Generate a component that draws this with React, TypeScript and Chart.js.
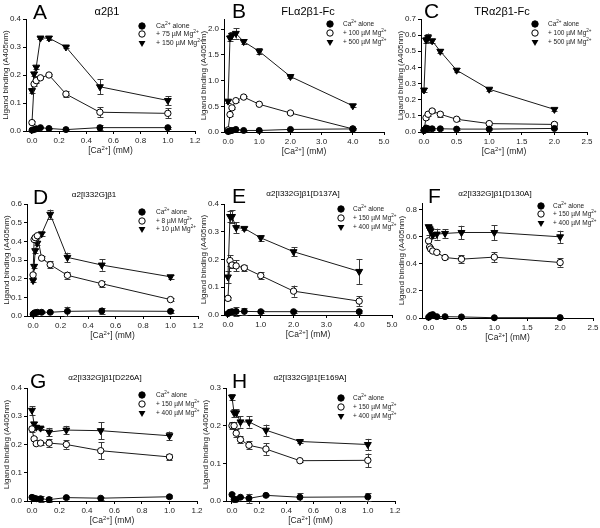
import React, { useEffect, useRef } from "react";
import { Chart, registerables } from "chart.js";
Chart.register(...registerables);

// ---------------- data ----------------
const xA = [0, 0.0156, 0.03125, 0.0625, 0.125, 0.25, 0.5, 1.0];
const aCa = [0.003, 0.005, 0.008, 0.012, 0.009, 0.005, 0.012, 0.012];
const aCaErr = [0.002, 0.003, 0.004, 0.003, 0.003, 0.003, 0.008, 0.004];
const aLow = [0.03, 0.168, 0.18, 0.19, 0.2, 0.132, 0.067, 0.063];
const aLowErr = [0.005, 0.008, 0.008, 0.005, 0.005, 0.012, 0.018, 0.018];
const aHigh = [0.144, 0.204, 0.228, 0.332, 0.332, 0.3, 0.158, 0.109];
const aHighErr = [0.008, 0.008, 0.005, 0.005, 0.006, 0.005, 0.027, 0.016];

const xB = [0, 0.0625, 0.125, 0.25, 0.5, 1, 2, 4];
const bCa = [0.01, 0.02, 0.03, 0.05, 0.03, 0.03, 0.05, 0.06];
const bCaErr = [0.01, 0.01, 0.01, 0.01, 0.01, 0.01, 0.01, 0.01];
const bLow = [0.04, 0.34, 0.47, 0.61, 0.68, 0.54, 0.37, 0.06];
const bLowErr = [0.02, 0.02, 0.02, 0.02, 0.02, 0.02, 0.02, 0.02];
const bHigh = [0.6, 1.83, 1.88, 1.92, 1.76, 1.57, 1.08, 0.51];
const bHighErr = [0.03, 0.05, 0.06, 0.1, 0.05, 0.06, 0.02, 0.03];

const xC = [0, 0.03125, 0.0625, 0.125, 0.25, 0.5, 1, 2];
const cCa = [0.01, 0.025, 0.02, 0.02, 0.02, 0.018, 0.018, 0.022];
const cCaErr = [0.005, 0.005, 0.005, 0.005, 0.005, 0.005, 0.005, 0.005];
const cLow = [0.01, 0.088, 0.11, 0.13, 0.11, 0.079, 0.052, 0.047];
const cLowErr = [0.005, 0.01, 0.01, 0.01, 0.015, 0.008, 0.008, 0.012];
const cHigh = [0.26, 0.57, 0.585, 0.565, 0.5, 0.383, 0.265, 0.14];
const cHighErr = [0.01, 0.02, 0.025, 0.012, 0.012, 0.012, 0.008, 0.008];

const xD = [0, 0.0078, 0.0156, 0.03125, 0.0625, 0.125, 0.25, 0.5, 1.0];
const dCa = [0.01, 0.015, 0.018, 0.02, 0.02, 0.02, 0.025, 0.027, 0.025];
const dCaErr = [0.005, 0.005, 0.005, 0.005, 0.005, 0.005, 0.025, 0.018, 0.008];
const dLow = [0.22, 0.41, 0.42, 0.43, 0.31, 0.275, 0.218, 0.173, 0.088];
const dLowErr = [0.01, 0.01, 0.01, 0.01, 0.01, 0.02, 0.02, 0.015, 0.008];
const dHigh = [0.19, 0.266, 0.35, 0.39, 0.44, 0.545, 0.314, 0.273, 0.21];
const dHighErr = [0.01, 0.01, 0.01, 0.01, 0.01, 0.025, 0.025, 0.03, 0.01];

const xE = [0, 0.0625, 0.125, 0.25, 0.5, 1, 2, 4];
const eCa = [0.005, 0.01, 0.012, 0.013, 0.013, 0.012, 0.012, 0.012];
const eCaErr = [0.003, 0.01, 0.01, 0.015, 0.012, 0.005, 0.005, 0.005];
const eLow = [0.06, 0.196, 0.18, 0.177, 0.17, 0.142, 0.086, 0.05];
const eLowErr = [0.005, 0.02, 0.01, 0.02, 0.01, 0.012, 0.02, 0.018];
const eHigh = [0.137, 0.355, 0.355, 0.315, 0.312, 0.278, 0.228, 0.157];
const eHighErr = [0.02, 0.02, 0.022, 0.02, 0.005, 0.01, 0.016, 0.045];

const xF = [0, 0.0156, 0.03125, 0.0625, 0.125, 0.25, 0.5, 1, 2];
const fCa = [0.005, 0.012, 0.02, 0.025, 0.01, 0.01, 0.008, 0.002, 0.003];
const fCaErr = [0.005, 0.005, 0.005, 0.005, 0.005, 0.005, 0.005, 0.005, 0.005];
const fLow = [0.57, 0.525, 0.51, 0.495, 0.485, 0.447, 0.435, 0.45, 0.41];
const fLowErr = [0.04, 0.01, 0.01, 0.01, 0.01, 0.01, 0.03, 0.035, 0.03];
const fHigh = [0.675, 0.66, 0.645, 0.61, 0.62, 0.625, 0.632, 0.632, 0.6];
const fHighErr = [0.01, 0.01, 0.01, 0.02, 0.04, 0.03, 0.05, 0.055, 0.045];

const xG = [0, 0.0156, 0.03125, 0.0625, 0.125, 0.25, 0.5, 1.0];
const gCa = [0.013, 0.01, 0.008, 0.008, 0.005, 0.012, 0.01, 0.015];
const gCaErr = [0.005, 0.005, 0.005, 0.01, 0.01, 0.005, 0.005, 0.005];
const gLow = [0.255, 0.22, 0.203, 0.205, 0.205, 0.2, 0.178, 0.156];
const gLowErr = [0.01, 0.005, 0.005, 0.005, 0.015, 0.015, 0.03, 0.012];
const gHigh = [0.321, 0.273, 0.261, 0.258, 0.244, 0.251, 0.249, 0.231];
const gHighErr = [0.015, 0.005, 0.005, 0.005, 0.015, 0.015, 0.03, 0.015];

const xH = [0, 0.0156, 0.03125, 0.0625, 0.125, 0.25, 0.5, 1.0];
const hCa = [0.017, 0.004, 0.004, 0.01, 0.007, 0.015, 0.01, 0.011];
const hCaErr = [0.003, 0.003, 0.003, 0.003, 0.012, 0.003, 0.01, 0.01];
const hLow = [0.2, 0.2, 0.18, 0.163, 0.148, 0.138, 0.107, 0.108];
const hLowErr = [0.01, 0.01, 0.01, 0.01, 0.01, 0.015, 0.003, 0.018];
const hHigh = [0.276, 0.234, 0.234, 0.21, 0.21, 0.188, 0.158, 0.15];
const hHighErr = [0.008, 0.01, 0.01, 0.015, 0.015, 0.015, 0.003, 0.015];

// tick values
const xTicks12 = [0, 0.2, 0.4, 0.6, 0.8, 1.0, 1.2];
const xTicks5 = [0, 1, 2, 3, 4, 5];
const xTicks25 = [0, 0.5, 1.0, 1.5, 2.0, 2.5];
const yTicks04 = [0, 0.1, 0.2, 0.3, 0.4];
const yTicks2 = [0, 0.5, 1.0, 1.5, 2.0];
const yTicks07 = [0, 0.1, 0.2, 0.3, 0.4, 0.5, 0.6, 0.7];
const yTicks06 = [0, 0.1, 0.2, 0.3, 0.4, 0.5, 0.6];
const yTicks08 = [0, 0.2, 0.4, 0.6, 0.8];
const yTicks03 = [0, 0.1, 0.2, 0.3];

// text
const legendA = ["Ca^2+^ alone", "+ 75 µM Mg^2+^", "+ 150 µM Mg^2+^"];
const legendBC = ["Ca^2+^ alone", "+ 100 µM Mg^2+^", "+ 500 µM Mg^2+^"];
const legendD = ["Ca^2+^ alone", "+ 8 µM Mg^2+^", "+ 10 µM Mg^2+^"];
const legendEH = ["Ca^2+^ alone", "+ 150 µM Mg^2+^", "+ 400 µM Mg^2+^"];
const yTitle = "Ligand binding (A405nm)";
const xTitle = "[Ca^2+^] (mM)";

const FONT = '"Liberation Sans", Arial, Helvetica, sans-serif';

type Panel = {
  letter: string; title: string; titleSize: number;
  box: { x: number; y: number; w: number; h: number };
  area: { l: number; t: number; r: number; b: number };
  xMin: number; xMax: number; xTicks: number[];
  yMin: number; yMax: number; yTicks: number[];
  xs: number[];
  ca: number[]; caErr: number[]; low: number[]; lowErr: number[]; high: number[]; highErr: number[];
  legend: string[];
  letterAt: [number, number]; titleAt: [number, number];
  legendAt: { mx: number; tx: number; ys: number[] }; legendSize: number;
};

const panels: Panel[] = [
  { letter: "A", title: "α2β1", titleSize: 11, box: { x: 0, y: 0, w: 205, h: 165 }, area: { l: 26, t: 19, r: 195, b: 131 },
    xMin: -0.044, xMax: 1.2, xTicks: xTicks12, yMin: 0, yMax: 0.4, yTicks: yTicks04, xs: xA,
    ca: aCa, caErr: aCaErr, low: aLow, lowErr: aLowErr, high: aHigh, highErr: aHighErr, legend: legendA,
    letterAt: [33, 19], titleAt: [107, 12], legendAt: { mx: 142, tx: 156, ys: [26, 34, 43] }, legendSize: 7 },
  { letter: "B", title: "FLα2β1-Fc", titleSize: 11, box: { x: 195, y: 0, w: 205, h: 165 }, area: { l: 224, t: 19, r: 384, b: 132 },
    xMin: -0.13, xMax: 5, xTicks: xTicks5, yMin: 0, yMax: 2.2, yTicks: yTicks2, xs: xB,
    ca: bCa, caErr: bCaErr, low: bLow, lowErr: bLowErr, high: bHigh, highErr: bHighErr, legend: legendBC,
    letterAt: [232, 18], titleAt: [308, 12], legendAt: { mx: 330, tx: 343, ys: [24, 33, 42] }, legendSize: 6.5 },
  { letter: "C", title: "TRα2β1-Fc", titleSize: 11, box: { x: 395, y: 0, w: 210, h: 165 }, area: { l: 421, t: 19, r: 587, b: 132 },
    xMin: -0.046, xMax: 2.5, xTicks: xTicks25, yMin: 0, yMax: 0.7, yTicks: yTicks07, xs: xC,
    ca: cCa, caErr: cCaErr, low: cLow, lowErr: cLowErr, high: cHigh, highErr: cHighErr, legend: legendBC,
    letterAt: [424, 18], titleAt: [502, 12], legendAt: { mx: 535, tx: 548, ys: [24, 33, 42] }, legendSize: 6.5 },
  { letter: "D", title: "α2[I332G]β1", titleSize: 8, box: { x: 0, y: 168, w: 208, h: 175 }, area: { l: 27, t: 204, r: 198, b: 316 },
    xMin: -0.044, xMax: 1.2, xTicks: xTicks12, yMin: 0, yMax: 0.6, yTicks: yTicks06, xs: xD,
    ca: dCa, caErr: dCaErr, low: dLow, lowErr: dLowErr, high: dHigh, highErr: dHighErr, legend: legendD,
    letterAt: [33, 204], titleAt: [94, 195], legendAt: { mx: 142, tx: 156, ys: [212, 221, 229] }, legendSize: 6.5 },
  { letter: "E", title: "α2[I332G]β1[D137A]", titleSize: 8, box: { x: 195, y: 168, w: 210, h: 175 }, area: { l: 224, t: 204, r: 392, b: 315 },
    xMin: -0.12, xMax: 5, xTicks: xTicks5, yMin: 0, yMax: 0.4, yTicks: yTicks04, xs: xE,
    ca: eCa, caErr: eCaErr, low: eLow, lowErr: eLowErr, high: eHigh, highErr: eHighErr, legend: legendEH,
    letterAt: [232, 203], titleAt: [303, 194], legendAt: { mx: 341, tx: 353, ys: [209, 218, 227] }, legendSize: 6.5 },
  { letter: "F", title: "α2[I332G]β1[D130A]", titleSize: 8, box: { x: 395, y: 168, w: 212, h: 175 }, area: { l: 422, t: 203, r: 593, b: 318 },
    xMin: -0.1, xMax: 2.5, xTicks: xTicks25, yMin: 0, yMax: 0.85, yTicks: yTicks08, xs: xF,
    ca: fCa, caErr: fCaErr, low: fLow, lowErr: fLowErr, high: fHigh, highErr: fHighErr, legend: legendEH,
    letterAt: [428, 203], titleAt: [495, 194], legendAt: { mx: 541, tx: 553, ys: [206, 214, 223] }, legendSize: 6.5 },
  { letter: "G", title: "α2[I332G]β1[D226A]", titleSize: 8, box: { x: 0, y: 345, w: 207, h: 183 }, area: { l: 27, t: 388, r: 197, b: 501 },
    xMin: -0.036, xMax: 1.2, xTicks: xTicks12, yMin: 0, yMax: 0.4, yTicks: yTicks04, xs: xG,
    ca: gCa, caErr: gCaErr, low: gLow, lowErr: gLowErr, high: gHigh, highErr: gHighErr, legend: legendEH,
    letterAt: [30, 388], titleAt: [105, 378], legendAt: { mx: 142, tx: 156, ys: [395, 404, 413] }, legendSize: 6.5 },
  { letter: "H", title: "α2[I332G]β1[E169A]", titleSize: 8, box: { x: 195, y: 345, w: 212, h: 183 }, area: { l: 226, t: 388, r: 395, b: 501 },
    xMin: -0.044, xMax: 1.2, xTicks: xTicks12, yMin: 0, yMax: 0.3, yTicks: yTicks03, xs: xH,
    ca: hCa, caErr: hCaErr, low: hLow, lowErr: hLowErr, high: hHigh, highErr: hHighErr, legend: legendEH,
    letterAt: [232, 388], titleAt: [310, 378], legendAt: { mx: 341, tx: 353, ys: [398, 407, 416] }, legendSize: 6.5 },
];

// ---------------- drawing helpers ----------------
function drawRich(ctx: CanvasRenderingContext2D, text: string, x: number, y: number, size: number, align: "left" | "center") {
  const parts = text.split("^").map((t, i) => ({ t, sup: i % 2 === 1 })).filter((p) => p.t.length > 0);
  const supSize = size * 0.7;
  const widths = parts.map((p) => {
    ctx.font = `${p.sup ? supSize : size}px ${FONT}`;
    return ctx.measureText(p.t).width;
  });
  const total = widths.reduce((a, b) => a + b, 0);
  let cx = align === "center" ? x - total / 2 : x;
  ctx.textAlign = "left";
  ctx.textBaseline = "middle";
  parts.forEach((p, i) => {
    ctx.font = `${p.sup ? supSize : size}px ${FONT}`;
    ctx.fillText(p.t, cx, p.sup ? y - size * 0.35 : y);
    cx += widths[i];
  });
}

function drawMarker(ctx: CanvasRenderingContext2D, kind: number, x: number, y: number) {
  ctx.save();
  ctx.lineWidth = 1;
  ctx.strokeStyle = "#000";
  if (kind === 2) {
    const r = 4;
    ctx.beginPath();
    ctx.moveTo(x - r * 0.866, y - r * 0.5);
    ctx.lineTo(x + r * 0.866, y - r * 0.5);
    ctx.lineTo(x, y + r);
    ctx.closePath();
    ctx.fillStyle = "#000";
    ctx.fill();
  } else {
    ctx.beginPath();
    ctx.arc(x, y, 3.2, 0, Math.PI * 2);
    ctx.fillStyle = kind === 0 ? "#000" : "#fff";
    ctx.fill();
    ctx.stroke();
  }
  ctx.restore();
}

const errorBars = {
  id: "errorBars",
  beforeDatasetsDraw(chart: any) {
    const ctx = chart.ctx;
    const xs = chart.scales.x;
    const ys = chart.scales.y;
    ctx.save();
    ctx.strokeStyle = "#3a3a3a";
    ctx.lineWidth = 1;
    chart.data.datasets.forEach((ds: any) => {
      const errs: number[] = ds.errors || [];
      ds.data.forEach((pt: any, i: number) => {
        const e = errs[i];
        if (!e) return;
        const px = Math.round(xs.getPixelForValue(pt.x)) + 0.5;
        const y1 = ys.getPixelForValue(pt.y + e);
        const y2 = ys.getPixelForValue(pt.y - e);
        ctx.beginPath();
        ctx.moveTo(px, y1);
        ctx.lineTo(px, y2);
        ctx.moveTo(px - 3, Math.round(y1) + 0.5);
        ctx.lineTo(px + 3, Math.round(y1) + 0.5);
        ctx.moveTo(px - 3, Math.round(y2) + 0.5);
        ctx.lineTo(px + 3, Math.round(y2) + 0.5);
        ctx.stroke();
      });
    });
    ctx.restore();
  },
};

function deco(p: Panel) {
  return {
    id: "deco" + p.letter,
    afterDraw(chart: any) {
      const ctx: CanvasRenderingContext2D = chart.ctx;
      const a = chart.chartArea;
      const ox = p.box.x;
      const oy = p.box.y;
      ctx.save();
      ctx.fillStyle = "#000";
      // panel letter
      ctx.font = `21px ${FONT}`;
      ctx.textAlign = "left";
      ctx.textBaseline = "alphabetic";
      ctx.fillText(p.letter, p.letterAt[0] - ox, p.letterAt[1] - oy);
      // title
      ctx.font = `${p.titleSize}px ${FONT}`;
      ctx.textAlign = "center";
      ctx.textBaseline = "middle";
      ctx.fillText(p.title, p.titleAt[0] - ox, p.titleAt[1] - oy);
      // y title
      ctx.save();
      ctx.translate(a.left - 20, (a.top + a.bottom) / 2);
      ctx.rotate(-Math.PI / 2);
      ctx.fillStyle = "#222";
      ctx.font = `8px ${FONT}`;
      ctx.textAlign = "center";
      ctx.textBaseline = "middle";
      ctx.fillText(yTitle, 0, 0);
      ctx.restore();
      // x title
      ctx.fillStyle = "#222";
      drawRich(ctx, xTitle, (a.left + a.right) / 2, a.bottom + 20, 8.5, "center");
      // legend
      p.legend.forEach((lab, i) => {
        const y = p.legendAt.ys[i] - oy;
        drawMarker(ctx, i, p.legendAt.mx - ox, y);
        ctx.fillStyle = "#222";
        drawRich(ctx, lab, p.legendAt.tx - ox, y, p.legendSize, "left");
      });
      ctx.restore();
    },
  };
}

function axisOpts(min: number, max: number, ticks: number[], fit: (s: any) => void) {
  return {
    type: "linear",
    min,
    max,
    afterFit: fit,
    afterBuildTicks: (s: any) => {
      s.ticks = ticks.map((v) => ({ value: v }));
    },
    ticks: {
      autoSkip: false,
      maxRotation: 0,
      padding: 2,
      color: "#222",
      font: { family: FONT, size: 8 },
      callback: (v: any) => Number(v).toFixed(1),
    },
    grid: { drawOnChartArea: false, drawTicks: true, tickLength: 3, color: "#000", lineWidth: 1 },
    border: { display: true, color: "#000", width: 1 },
  };
}

function makeConfig(p: Panel): any {
  const pts = (ys: number[]) => p.xs.map((x, i) => ({ x, y: ys[i] }));
  const base = { borderColor: "#1a1a1a", borderWidth: 1, tension: 0, clip: false, pointBorderColor: "#000", pointBorderWidth: 1 };
  return {
    type: "line",
    data: {
      datasets: [
        { ...base, label: p.legend[0], data: pts(p.ca), errors: p.caErr, pointStyle: "circle", pointRadius: 3, pointBackgroundColor: "#000" },
        { ...base, label: p.legend[1], data: pts(p.low), errors: p.lowErr, pointStyle: "circle", pointRadius: 3.2, pointBackgroundColor: "#fff" },
        { ...base, label: p.legend[2], data: pts(p.high), errors: p.highErr, pointStyle: "triangle", pointRotation: 180, pointRadius: 4, pointBackgroundColor: "#000" },
      ],
    },
    options: {
      animation: false,
      responsive: false,
      maintainAspectRatio: false,
      devicePixelRatio: 1,
      events: [],
      layout: { padding: { left: 0, top: p.area.t - p.box.y, right: p.box.x + p.box.w - p.area.r, bottom: 0 } },
      scales: {
        x: axisOpts(p.xMin, p.xMax, p.xTicks, (s: any) => { s.height = p.box.y + p.box.h - p.area.b; }),
        y: axisOpts(p.yMin, p.yMax, p.yTicks, (s: any) => { s.width = p.area.l - p.box.x; }),
      },
      plugins: { legend: { display: false }, tooltip: { enabled: false }, title: { display: false } },
    },
    plugins: [errorBars, deco(p)],
  };
}

function PanelChart({ p }: { p: Panel }) {
  const ref = useRef<HTMLCanvasElement | null>(null);
  useEffect(() => {
    if (!ref.current) return;
    const chart = new Chart(ref.current, makeConfig(p));
    return () => chart.destroy();
  }, [p]);
  return (
    <canvas
      ref={ref}
      width={p.box.w}
      height={p.box.h}
      style={{ position: "absolute", left: p.box.x, top: p.box.y, width: p.box.w, height: p.box.h }}
    />
  );
}

export default function App() {
  return (
    <div style={{ position: "fixed", left: 0, top: 0, width: 600, height: 528, background: "#fff", overflow: "hidden" }}>
      {panels.map((p) => (
        <PanelChart key={p.letter} p={p} />
      ))}
    </div>
  );
}
